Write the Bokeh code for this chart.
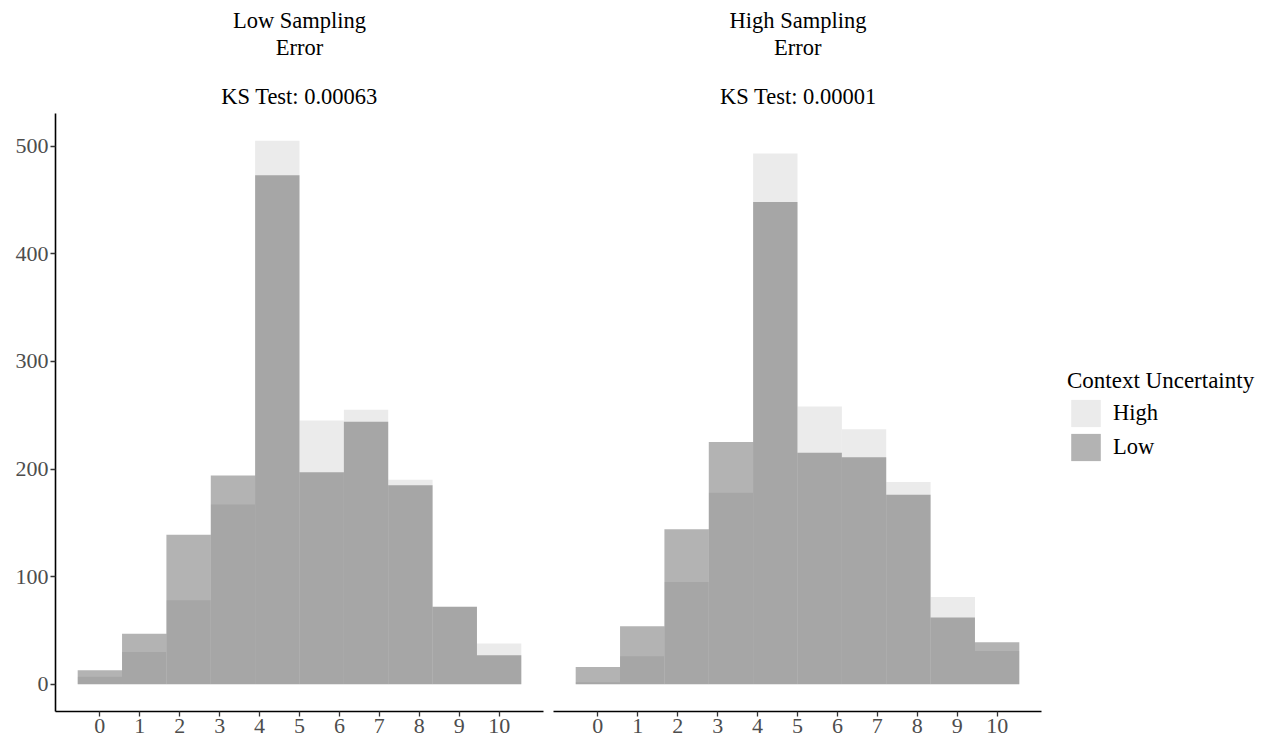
from bokeh.plotting import figure
from bokeh.models import Range1d, FixedTicker, Legend, LegendItem, Title
from bokeh.layouts import row
from bokeh.embed import file_html
from bokeh.resources import INLINE

# ---- data (counts per bin, bins centred on 0, 10/9, ..., 10) ----
n_bins = 10
x_min, x_max = 0, 10
panel_title_lines = [["Low Sampling", "Error", "KS Test: 0.00063"],
                     ["High Sampling", "Error", "KS Test: 0.00001"]]
high_low_err = [7, 30, 78, 167, 505, 245, 255, 190, 72, 38]
low_low_err = [13, 47, 139, 194, 473, 197, 244, 185, 72, 27]
high_high_err = [2, 26, 95, 178, 493, 258, 237, 188, 81, 31]
low_high_err = [16, 54, 144, 225, 448, 215, 211, 176, 62, 39]
x_ticks = list(range(0, 11))
y_ticks = [0, 100, 200, 300, 400, 500]
legend_title = "Context Uncertainty"
group_labels = ["High", "Low"]

# ---- binning geometry ----
bw = (x_max - x_min) / (n_bins - 1)
centers = [x_min + i * bw for i in range(n_bins)]
lefts = [c - bw / 2 for c in centers]
rights = [c + bw / 2 for c in centers]
span = rights[-1] - lefts[0]
xr_start, xr_end = lefts[0] - 0.05 * span, rights[-1] + 0.05 * span
ymax = max(high_low_err + low_low_err + high_high_err + low_high_err)
yr = Range1d(-0.05 * ymax, ymax * 1.05)

FONT = "Liberation Serif"
TICK_COLOR = "#4d4d4d"
PANEL_W, FRAME_H = 488, 598
LEGEND_W = 226
TOP, BOTTOM = 113, 31
TITLE_SIZE = "22.5px"
HIGH_FILL, HIGH_ALPHA = "#ebebeb", 1.0
LOW_FILL, LOW_ALPHA = "#262626", 0.35
# approximate rendered widths of the title lines (px), used to centre them
# over the histogram part when the frame also hosts the legend
TITLE_TEXT_W = {"High Sampling": 136, "Error": 47, "KS Test: 0.00001": 155,
                " ": 0}


def add_title(p, text, standoff, size, offset=None):
    t = Title(text=text, align="center" if offset is None else "left",
              text_font=FONT, text_font_size=size, text_font_style="normal",
              text_color="black", standoff=standoff)
    if offset is not None:
        t.offset = offset
    p.add_layout(t, "above")


def make_panel(lines, high, low, show_y, extra_w):
    fw = PANEL_W + extra_w
    x_end = xr_start + (xr_end - xr_start) * fw / PANEL_W
    p = figure(frame_width=fw, frame_height=FRAME_H,
               x_range=Range1d(xr_start, x_end), y_range=yr,
               output_backend="svg", toolbar_location=None,
               min_border_left=55 if show_y else 5,
               min_border_right=5 if show_y else 0,
               min_border_top=TOP, min_border_bottom=BOTTOM,
               y_axis_location="left" if show_y else None)
    # titles: added bottom-up (later ones sit further from the frame)
    for t, s, fs in [(lines[2], 10, TITLE_SIZE), (" ", 0, "14px"),
                     (lines[1], 0, TITLE_SIZE), (lines[0], 0, TITLE_SIZE)]:
        off = None
        if extra_w:
            off = PANEL_W / 2 - TITLE_TEXT_W.get(t, 0) / 2
        add_title(p, t, s, fs, off)
    p.outline_line_color = None
    p.xgrid.visible = False
    p.ygrid.visible = False
    p.background_fill_color = "white"

    rh = p.quad(left=lefts, right=rights, bottom=0, top=high,
                fill_color=HIGH_FILL, fill_alpha=HIGH_ALPHA, line_color=None)
    rl = p.quad(left=lefts, right=rights, bottom=0, top=low,
                fill_color=LOW_FILL, fill_alpha=LOW_ALPHA, line_color=None)

    axes = list(p.xaxis) + (list(p.yaxis) if show_y else [])
    for ax in axes:
        ax.axis_line_color = "black"
        ax.axis_line_width = 1.6
        ax.major_tick_line_color = "#333333"
        ax.major_tick_line_width = 1.3
        ax.major_tick_in = 0
        ax.major_tick_out = 5
        ax.minor_tick_line_color = None
        ax.major_label_text_font = FONT
        ax.major_label_text_font_size = "22px"
        ax.major_label_text_color = TICK_COLOR
        ax.major_label_standoff = 2
    p.xaxis.ticker = FixedTicker(ticks=x_ticks)
    p.xaxis.bounds = (xr_start, xr_end)
    if show_y:
        p.yaxis.ticker = FixedTicker(ticks=y_ticks)
    return p, rh, rl


p1, _, _ = make_panel(panel_title_lines[0], high_low_err, low_low_err, True, 0)
p2, rh2, rl2 = make_panel(panel_title_lines[1], high_high_err, low_high_err,
                          False, LEGEND_W)

legend = Legend(items=[LegendItem(label=group_labels[0], renderers=[rh2]),
                       LegendItem(label=group_labels[1], renderers=[rl2])],
                title=legend_title, location=(PANEL_W + 26, 247))
legend.title_text_font = FONT
legend.title_text_font_size = "23px"
legend.title_text_font_style = "normal"
legend.title_text_color = "black"
legend.title_standoff = 2
legend.label_text_font = FONT
legend.label_text_font_size = "22.5px"
legend.label_text_color = "black"
legend.glyph_width = 37
legend.glyph_height = 34
legend.label_height = 34
legend.spacing = 0
legend.label_standoff = 9
legend.padding = 6
legend.margin = 0
legend.border_line_color = None
legend.background_fill_alpha = 0
p2.add_layout(legend, "center")

layout = row(p1, p2)
open("out.html", "w").write(file_html(layout, INLINE))
